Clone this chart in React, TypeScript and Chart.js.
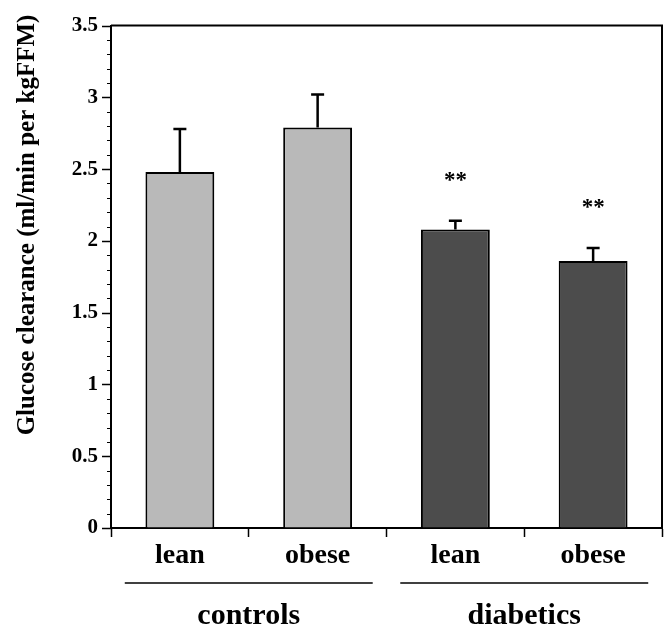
import React, { useEffect, useRef } from "react";
import { Chart, registerables } from "chart.js";

Chart.register(...registerables);

const categories = ["lean", "obese", "lean", "obese"];
const groupNames = ["controls", "diabetics"];
const groupMembers = [
  [0, 1],
  [2, 3],
];
const meanValues = [2.48, 2.79, 2.08, 1.86];
const errorValues = [0.3, 0.23, 0.06, 0.09];
const significance = ["", "", "**", "**"];
const barColors = ["#b9b9b9", "#b9b9b9", "#4c4c4c", "#4c4c4c"];
const yAxisTitle = "Glucose clearance (ml/min per kgFFM)";
const yMin = 0;
const yMax = 3.5;
const yMajorStep = 0.5;
const yMinorStep = 0.1;

const SERIF = '"Liberation Serif", "Times New Roman", serif';

const decorPlugin = {
  id: "decor",
  afterDatasetsDraw(chart: any) {
    const { ctx, chartArea } = chart;
    const xs = chart.scales.x;
    const ys = chart.scales.y;
    ctx.save();
    // frame top and right
    ctx.strokeStyle = "#000";
    ctx.lineWidth = 2;
    ctx.beginPath();
    ctx.moveTo(chartArea.left, chartArea.top);
    ctx.lineTo(chartArea.right, chartArea.top);
    ctx.lineTo(chartArea.right, chartArea.bottom);
    ctx.stroke();

    // y ticks major / minor
    const nMinor = Math.round((yMax - yMin) / yMinorStep);
    for (let i = 0; i <= nMinor; i++) {
      const v = yMin + i * yMinorStep;
      const py = Math.round(ys.getPixelForValue(v)) + 0.5;
      const isMajor = Math.abs(v / yMajorStep - Math.round(v / yMajorStep)) < 1e-6;
      const len = isMajor ? 9 : 4;
      ctx.lineWidth = isMajor ? 1.5 : 1;
      ctx.beginPath();
      ctx.moveTo(chartArea.left - len, py);
      ctx.lineTo(chartArea.left, py);
      ctx.stroke();
    }

    // error bars
    const meta = chart.getDatasetMeta(0);
    meta.data.forEach((bar: any, i: number) => {
      const x = bar.x;
      const yTop = ys.getPixelForValue(meanValues[i]);
      const yErr = ys.getPixelForValue(meanValues[i] + errorValues[i]);
      ctx.strokeStyle = "#000";
      ctx.lineWidth = 2.5;
      ctx.beginPath();
      ctx.moveTo(x, yTop);
      ctx.lineTo(x, yErr);
      ctx.moveTo(x - 6.5, yErr);
      ctx.lineTo(x + 6.5, yErr);
      ctx.stroke();
      if (significance[i]) {
        ctx.fillStyle = "#000";
        ctx.font = `bold 23px ${SERIF}`;
        ctx.textAlign = "center";
        ctx.textBaseline = "middle";
        ctx.fillText(significance[i], x, yErr - 40);
      }
    });

    // group lines and labels
    const cw = xs.getPixelForValue(1) - xs.getPixelForValue(0);
    groupMembers.forEach((members, g) => {
      const first = xs.getPixelForValue(members[0]);
      const last = xs.getPixelForValue(members[members.length - 1]);
      const center = (first + last) / 2;
      const half = (last - first) / 2 + 0.4 * cw;
      ctx.strokeStyle = "#000";
      ctx.lineWidth = 1.5;
      ctx.beginPath();
      ctx.moveTo(center - half, 583);
      ctx.lineTo(center + half, 583);
      ctx.stroke();
      ctx.fillStyle = "#000";
      ctx.font = `bold 30px ${SERIF}`;
      ctx.textAlign = "center";
      ctx.textBaseline = "alphabetic";
      ctx.fillText(groupNames[g], center, 624);
    });

    // y axis title
    ctx.save();
    ctx.translate(34, (13 + 437) / 2);
    ctx.rotate(-Math.PI / 2);
    ctx.fillStyle = "#000";
    ctx.font = `bold 25px ${SERIF}`;
    ctx.textAlign = "center";
    ctx.textBaseline = "alphabetic";
    ctx.fillText(yAxisTitle, 0, 0);
    ctx.restore();

    ctx.restore();
  },
};

export default function App() {
  const canvasRef = useRef<HTMLCanvasElement | null>(null);

  useEffect(() => {
    if (!canvasRef.current) return;
    const chart = new Chart(canvasRef.current, {
      type: "bar",
      data: {
        labels: categories,
        datasets: [
          {
            data: meanValues,
            backgroundColor: barColors,
            borderColor: "#000",
            borderWidth: 2,
            barPercentage: 0.5,
            categoryPercentage: 1,
          },
        ],
      },
      options: {
        animation: false,
        responsive: false,
        devicePixelRatio: 1,
        layout: { padding: { top: 22, right: 6, left: 0, bottom: 0 } },
        plugins: {
          legend: { display: false },
          tooltip: { enabled: false },
          title: { display: false },
        },
        scales: {
          x: {
            type: "category",
            afterFit: (scale: any) => {
              scale.height = 103;
            },
            border: { display: true, color: "#000", width: 2 },
            grid: {
              display: true,
              offset: true,
              drawOnChartArea: false,
              drawTicks: true,
              tickLength: 9,
              tickColor: "#000",
              tickWidth: 1.5,
            },
            ticks: {
              color: "#000",
              padding: 2,
              font: { family: SERIF, size: 28, weight: "bold" },
            },
          },
          y: {
            min: yMin,
            max: yMax,
            afterFit: (scale: any) => {
              scale.width = 111;
            },
            border: { display: true, color: "#000", width: 2 },
            grid: { display: true, drawOnChartArea: false, drawTicks: false },
            ticks: {
              stepSize: yMajorStep,
              color: "#000",
              padding: 13,
              font: { family: SERIF, size: 21, weight: "bold" },
              callback: (v: any) => String(Number(v)),
            },
          },
        },
      },
      plugins: [decorPlugin],
    });
    return () => chart.destroy();
  }, []);

  return (
    <div style={{ position: "fixed", left: 0, top: 0, width: 668, height: 631, background: "#fff" }}>
      <canvas ref={canvasRef} width={668} height={631} style={{ display: "block" }} />
    </div>
  );
}
